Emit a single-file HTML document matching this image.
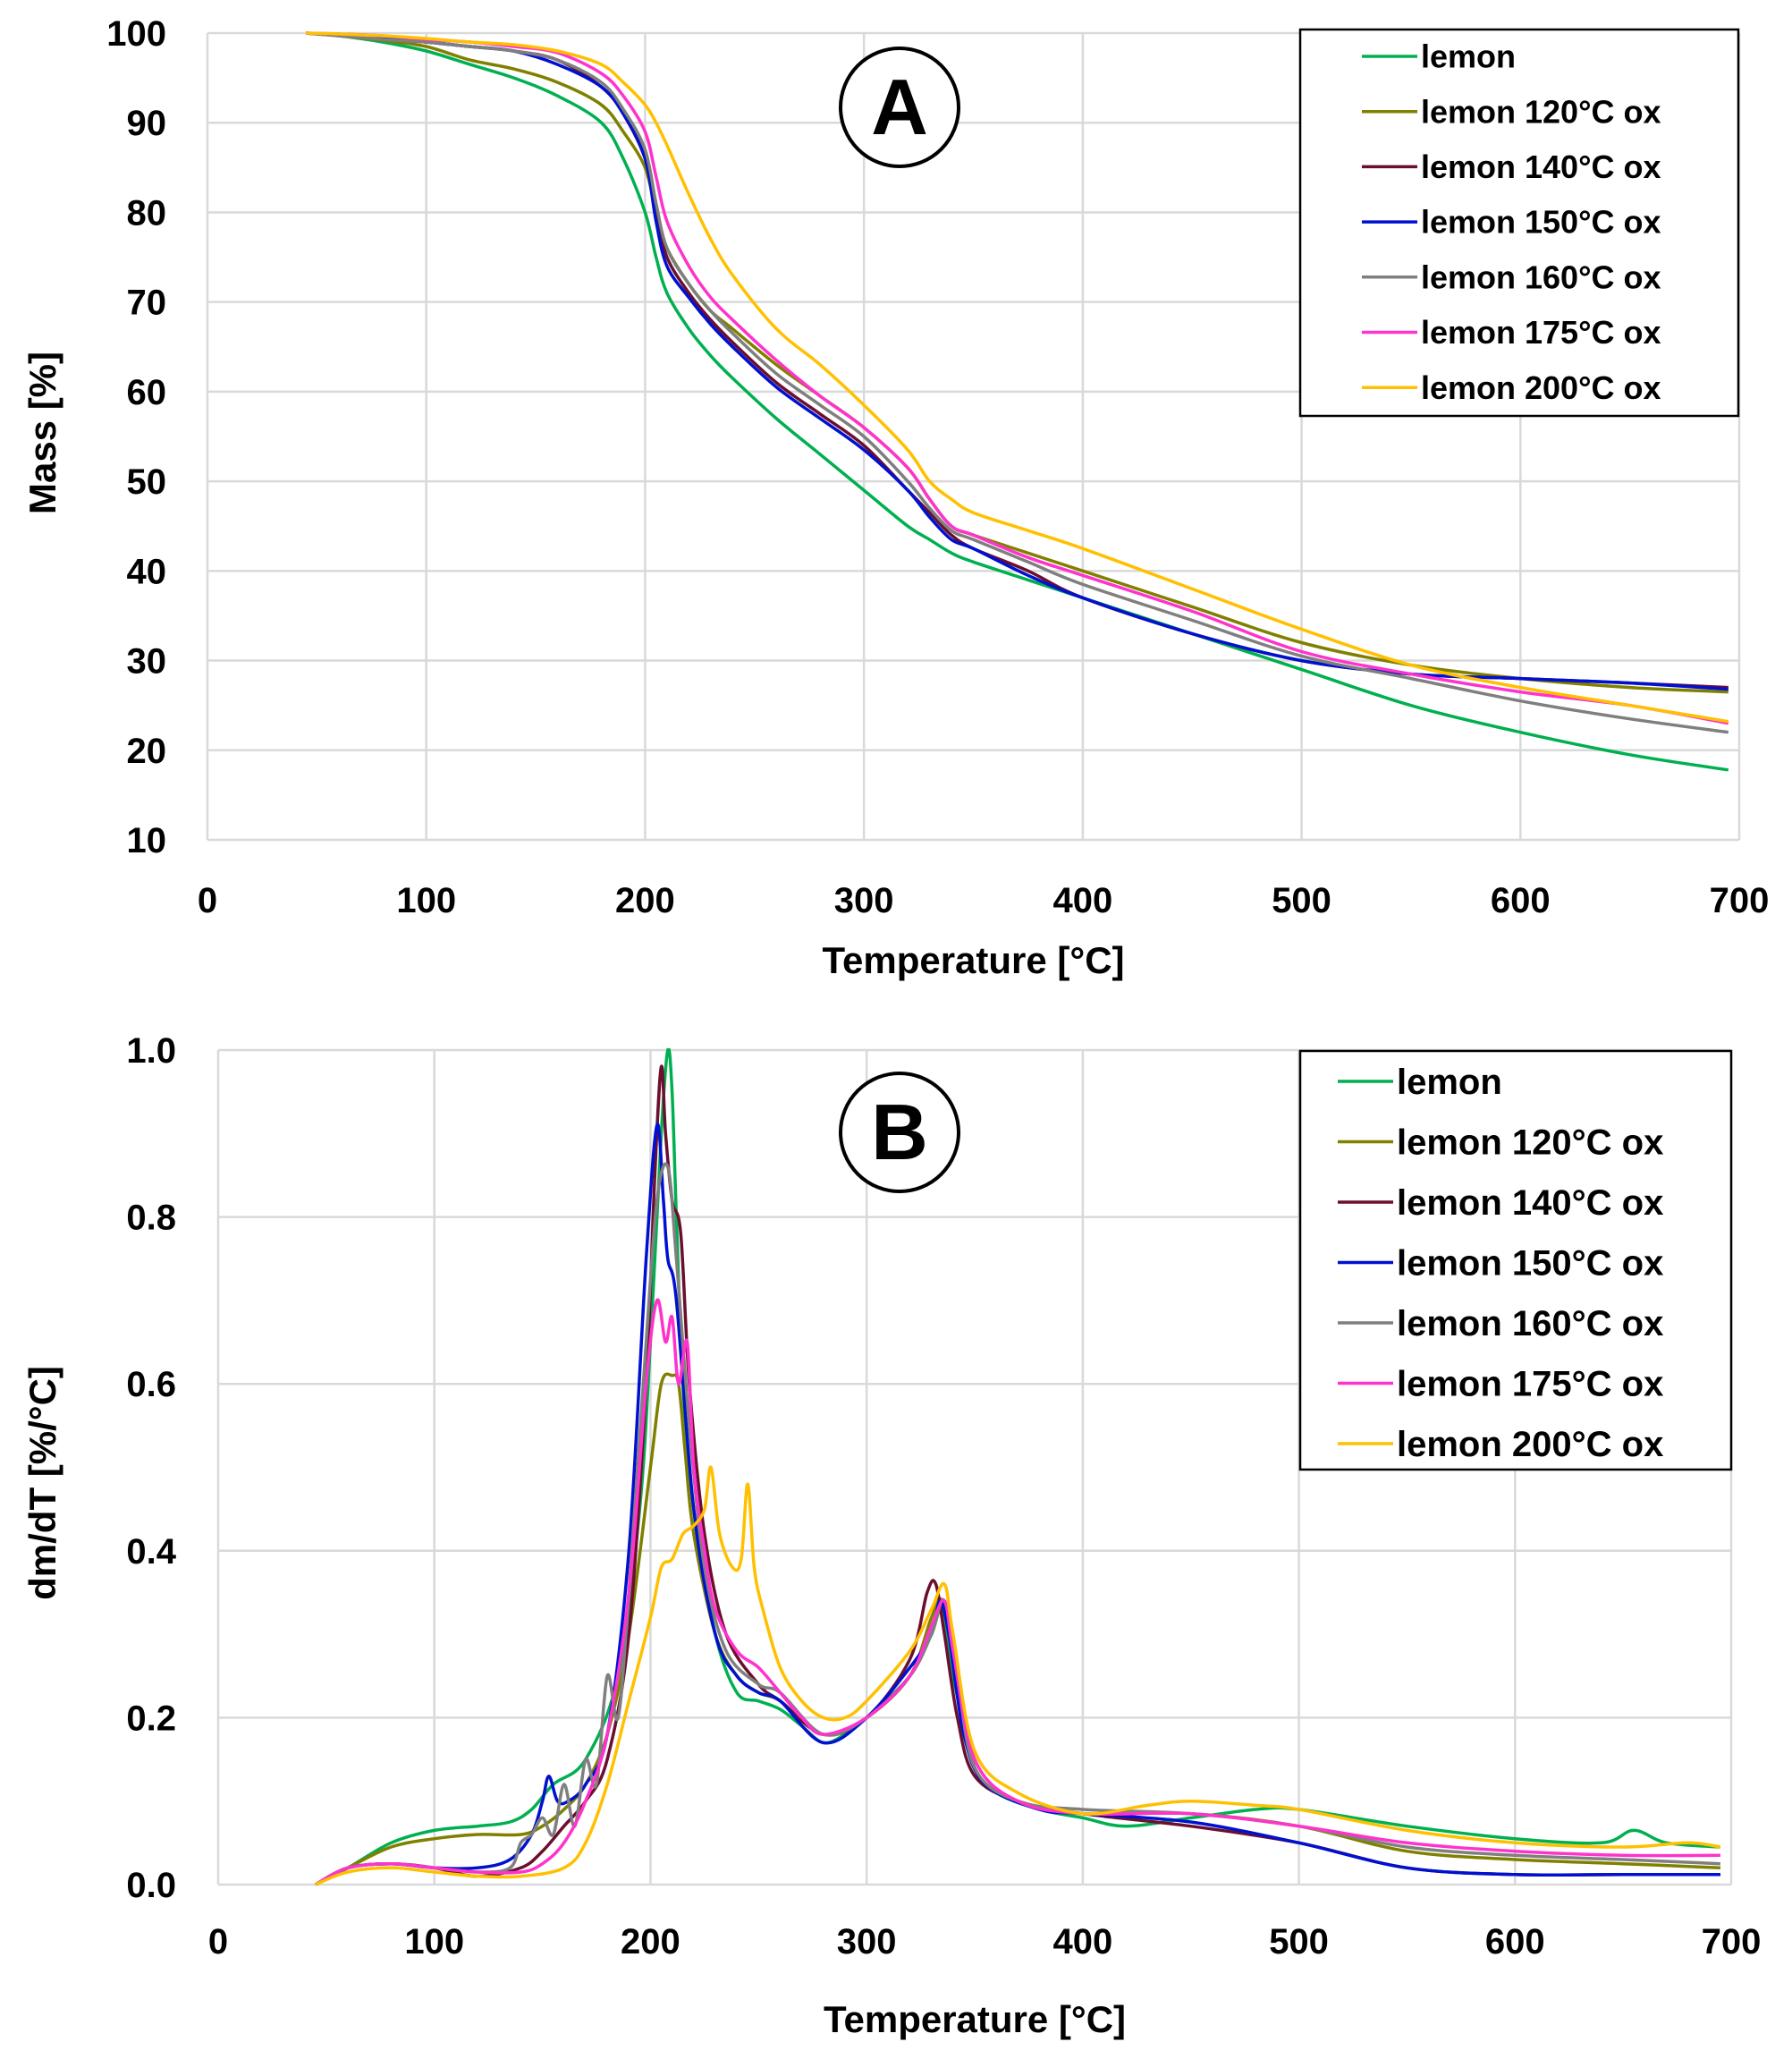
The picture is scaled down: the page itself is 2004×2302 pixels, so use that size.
<!DOCTYPE html>
<html><head><meta charset="utf-8"><style>
html,body{margin:0;padding:0;background:#fff}
svg{display:block}
text{font-family:"Liberation Sans",sans-serif;font-weight:bold;fill:#000}
</style></head><body>
<svg id="fig" width="2004" height="2302" viewBox="0 0 2004 2302" xmlns="http://www.w3.org/2000/svg"></svg>
<script>
const seriesNames=["lemon","lemon 120°C ox","lemon 140°C ox","lemon 150°C ox","lemon 160°C ox","lemon 175°C ox","lemon 200°C ox"];
const seriesColors=["#00b050","#808000","#6b0f2f","#0010d0","#7f7f7f","#ff33cc","#ffc000"];
// Panel A data
const tempA=[45,60,80,100,120,140,160,180,190,200,205,210,220,230,240,260,280,300,320,330,340,350,375,400,450,500,550,600,650,695];
const massLemon=[100,99.7,99,98,96.5,95,93,90,86,80,75,71,67,64,61.5,57,53,49,45,43.5,42,41,39,37,33,29,25,22,19.5,17.8];
const mass120=[100,99.7,99.2,98.5,97,96,94.5,92,89,85,80,76,72,69,67,63,59.5,56,51.5,48,45,44,42,40,36,32,29.5,28,27,26.5];
const mass140=[100,99.8,99.4,99,98.5,98,97,94,91,86,80,75,71,68,65.5,61,57.5,54,49,46.5,44,42.5,40,37,33,30,28.5,28,27.5,27];
const mass150=[100,99.8,99.4,99,98.5,98,96.5,94,91,86,79,74,70.5,67.5,65,60.5,57,53.5,49,46,43.5,42.5,39.5,37,33,30,28.5,28,27.5,26.8];
const mass160=[100,99.7,99.3,99,98.5,98,97,94.5,91.5,87,81,76,72,69,66.5,62,58.5,55,50,47,44.5,43.5,41,38.5,34.5,30.5,28,25.5,23.5,22];
const mass175=[100,99.9,99.7,99.3,99,98.5,97.8,95.5,93,89,84,79,74,70.5,68,63.5,59.5,56,51.5,48,45,44,41.5,39.5,35.5,31,28.5,26.5,25,23];
const mass200=[100,99.9,99.7,99.4,99,98.7,98,96.5,94.5,92,90,87.5,82,77,73,67,63,58.5,53.5,50,48,46.5,44.5,42.5,38,33.5,29.5,27,25,23.2];
const ticksAx=[0,100,200,300,400,500,600,700];
const ticksAy=[10,20,30,40,50,60,70,80,90,100];
// Panel B data
const tB0=[45,60,80,100,120,135,145,155,170,185,195,200,205,208,210,212,215,220,230,240,250,260,270,280,290,300,320,330,335,340,350,360,380,400,420,450,480,500,550,600,640,655,670,695];
const dB0=[0,0.02,0.05,0.065,0.07,0.075,0.09,0.12,0.15,0.25,0.45,0.65,0.9,1.0,0.95,0.8,0.6,0.45,0.3,0.23,0.22,0.21,0.19,0.17,0.18,0.2,0.25,0.3,0.33,0.25,0.14,0.11,0.09,0.08,0.07,0.08,0.09,0.09,0.07,0.055,0.05,0.065,0.05,0.045];
const tB1=[45,60,80,100,120,140,150,160,170,180,190,200,205,210,213,216,220,230,240,250,260,280,300,320,330,335,340,350,370,400,450,500,550,600,650,695];
const dB1=[0,0.02,0.045,0.055,0.06,0.06,0.07,0.09,0.12,0.18,0.3,0.5,0.6,0.61,0.6,0.52,0.42,0.3,0.25,0.23,0.22,0.18,0.2,0.25,0.32,0.34,0.27,0.14,0.1,0.085,0.085,0.07,0.04,0.03,0.025,0.02];
const tB2=[45,60,80,100,120,140,150,160,170,180,190,198,202,205,207,210,214,218,225,235,250,260,280,300,320,328,332,336,342,350,370,400,450,500,550,600,650,695];
const dB2=[0,0.02,0.025,0.02,0.01,0.02,0.04,0.07,0.1,0.15,0.3,0.6,0.85,0.98,0.9,0.82,0.78,0.6,0.42,0.3,0.24,0.22,0.18,0.2,0.27,0.35,0.36,0.3,0.2,0.13,0.1,0.085,0.07,0.05,0.02,0.012,0.012,0.012];
const tB3=[45,60,80,100,120,135,145,150,153,157,162,170,180,190,198,203,206,208,212,220,230,240,250,260,280,300,320,330,334,338,345,355,380,400,450,500,550,600,650,695];
const dB3=[0,0.02,0.025,0.02,0.02,0.03,0.06,0.1,0.13,0.1,0.1,0.12,0.18,0.4,0.75,0.91,0.82,0.75,0.7,0.45,0.3,0.25,0.23,0.22,0.17,0.2,0.26,0.3,0.34,0.3,0.18,0.12,0.09,0.085,0.075,0.05,0.02,0.012,0.012,0.012];
const tB4=[45,60,80,100,120,135,140,145,150,155,160,165,170,175,180,185,190,198,203,208,212,218,225,235,250,260,280,300,320,330,336,342,350,370,400,450,500,550,600,650,695];
const dB4=[0,0.02,0.025,0.02,0.015,0.02,0.05,0.06,0.08,0.06,0.12,0.07,0.15,0.12,0.25,0.2,0.35,0.65,0.82,0.86,0.75,0.55,0.38,0.28,0.24,0.23,0.18,0.2,0.25,0.3,0.34,0.25,0.14,0.1,0.09,0.085,0.07,0.045,0.035,0.03,0.025];
const tB5=[45,60,80,100,120,140,150,160,170,180,190,198,203,207,210,213,217,220,225,230,240,250,260,270,280,300,320,330,336,340,350,370,400,450,500,550,600,650,695];
const dB5=[0,0.02,0.025,0.02,0.015,0.015,0.025,0.05,0.1,0.18,0.35,0.6,0.7,0.65,0.68,0.6,0.65,0.5,0.4,0.33,0.28,0.26,0.23,0.2,0.18,0.2,0.25,0.31,0.34,0.28,0.15,0.1,0.085,0.085,0.07,0.05,0.04,0.035,0.035];
const tB6=[45,60,80,100,120,140,160,170,180,190,200,205,210,215,220,225,228,232,238,242,245,248,252,260,270,280,290,300,320,330,336,340,350,370,400,430,450,480,500,550,600,650,680,695];
const dB6=[0,0.015,0.02,0.015,0.01,0.01,0.02,0.05,0.12,0.22,0.32,0.38,0.39,0.42,0.43,0.45,0.5,0.42,0.38,0.39,0.48,0.38,0.33,0.26,0.22,0.2,0.2,0.22,0.28,0.33,0.36,0.3,0.16,0.11,0.085,0.095,0.1,0.095,0.09,0.065,0.05,0.045,0.05,0.045];
const ticksBx=[0,100,200,300,400,500,600,700];
const ticksBy=[0.0,0.2,0.4,0.6,0.8,1.0];

const NS="http://www.w3.org/2000/svg";
const svg=document.getElementById('fig');
function el(tag,attrs,parent,txt){const e=document.createElementNS(NS,tag);for(const k in attrs)e.setAttribute(k,attrs[k]);if(txt!==undefined)e.textContent=txt;(parent||svg).appendChild(e);return e;}
function smooth(pts){
  let d='M'+pts[0][0].toFixed(1)+','+pts[0][1].toFixed(1);
  for(let i=0;i<pts.length-1;i++){
    const p0=pts[i-1]||pts[i],p1=pts[i],p2=pts[i+1],p3=pts[i+2]||p2;
    const c1x=p1[0]+(p2[0]-p0[0])/6,c1y=p1[1]+(p2[1]-p0[1])/6;
    const c2x=p2[0]-(p3[0]-p1[0])/6,c2y=p2[1]-(p3[1]-p1[1])/6;
    d+='C'+c1x.toFixed(1)+','+c1y.toFixed(1)+' '+c2x.toFixed(1)+','+c2y.toFixed(1)+' '+p2[0].toFixed(1)+','+p2[1].toFixed(1);
  }
  return d;
}

function panel(cfg){
  const g=el('g',{});
  
  
  const X=v=>cfg.x0+(v-cfg.xmin)/(cfg.xmax-cfg.xmin)*(cfg.x1-cfg.x0);
  const Y=v=>cfg.y0-(v-cfg.ymin)/(cfg.ymax-cfg.ymin)*(cfg.y0-cfg.y1);
  cfg.xt.forEach(t=>{const l=el('line',{x1:X(t),x2:X(t),y1:cfg.y1,y2:cfg.y0,stroke:'#d9d9d9','stroke-width':2.5},g);
    
    const tx=el('text',{x:X(t),y:cfg.xly,'text-anchor':'middle','font-size':40},g,String(t));
    });
  cfg.yt.forEach(t=>{const l=el('line',{x1:cfg.x0,x2:cfg.x1,y1:Y(t),y2:Y(t),stroke:'#d9d9d9','stroke-width':2.5},g);
    
    const tx=el('text',{x:cfg.ylx,y:Y(t)+14,'text-anchor':'end','font-size':40},g,cfg.fmt(t));
    });
  const clipId='clip'+cfg.id;
  const cp=el('clipPath',{id:clipId},g);el('rect',{x:cfg.x0,y:cfg.y1-2,width:cfg.x1-cfg.x0,height:cfg.y0-cfg.y1+4},cp);
  cfg.series.forEach((s,i)=>{
    const pts=s.x.map((v,j)=>[X(v),Y(s.y[j])]);
    const p=el('path',{d:smooth(pts),fill:'none',stroke:seriesColors[i],'stroke-width':3.5,'stroke-linejoin':'round','clip-path':'url(#'+clipId+')'},g);
    
    
  });
  const xt=el('text',{x:(cfg.x0+cfg.x1)/2,y:cfg.xtitley,'text-anchor':'middle','font-size':42},g,'Temperature [°C]');
  
  const yt=el('text',{x:0,y:0,'text-anchor':'middle','font-size':42,transform:'translate('+cfg.ytitlex+','+cfg.ytitley+') rotate(-90)'},g,cfg.ytitle);
  
  const c=el('circle',{cx:cfg.cx,cy:cfg.cy,r:66,fill:'#fff',stroke:'#000','stroke-width':4},g);
  
  const cl=el('text',{x:cfg.cx,y:cfg.cy+30,'text-anchor':'middle','font-size':88},g,cfg.label);
  
  const L=cfg.leg;
  const lg=el('g',{},g);
  el('rect',{x:L.x,y:L.y,width:L.w,height:L.h,fill:'#fff',stroke:'#000','stroke-width':2.5},lg);
  seriesNames.forEach((n,i)=>{const yy=L.first+i*L.step;
    const e=el('g',{},lg);
    el('line',{x1:L.lx,x2:L.lx+62,y1:yy,y2:yy,stroke:seriesColors[i],'stroke-width':3.5},e);
    el('text',{x:L.lx+66,y:yy+L.fs*0.35,'font-size':L.fs},e,n);});
}
panel({id:'A',name:'panel-a-mass-chart',x0:232,x1:1945,y0:939,y1:37,xmin:0,xmax:700,ymin:10,ymax:100,xt:ticksAx,yt:ticksAy,
  fmt:t=>String(t),xly:1020,ylx:186,xtitley:1088,ytitlex:62,ytitley:484,ytitle:'Mass [%]',cx:1006,cy:120,label:'A',
  leg:{x:1454,y:33,w:490,h:432,first:63,step:61.7,lx:1523,fs:36},
  series:[{x:tempA,y:massLemon},{x:tempA,y:mass120},{x:tempA,y:mass140},{x:tempA,y:mass150},{x:tempA,y:mass160},{x:tempA,y:mass175},{x:tempA,y:mass200}]});
panel({id:'B',name:'panel-b-dtg-chart',x0:244,x1:1936,y0:2107,y1:1174,xmin:0,xmax:700,ymin:0,ymax:1.0,xt:ticksBx,yt:ticksBy,
  fmt:t=>t.toFixed(1),xly:2184,ylx:197,xtitley:2272,ytitlex:62,ytitley:1658,ytitle:'dm/dT [%/°C]',cx:1006,cy:1266,label:'B',
  leg:{x:1454,y:1175,w:482,h:468,first:1209,step:67.5,lx:1496,fs:40},
  series:[{x:tB0,y:dB0},{x:tB1,y:dB1},{x:tB2,y:dB2},{x:tB3,y:dB3},{x:tB4,y:dB4},{x:tB5,y:dB5},{x:tB6,y:dB6}]});
</script>
</body></html>
